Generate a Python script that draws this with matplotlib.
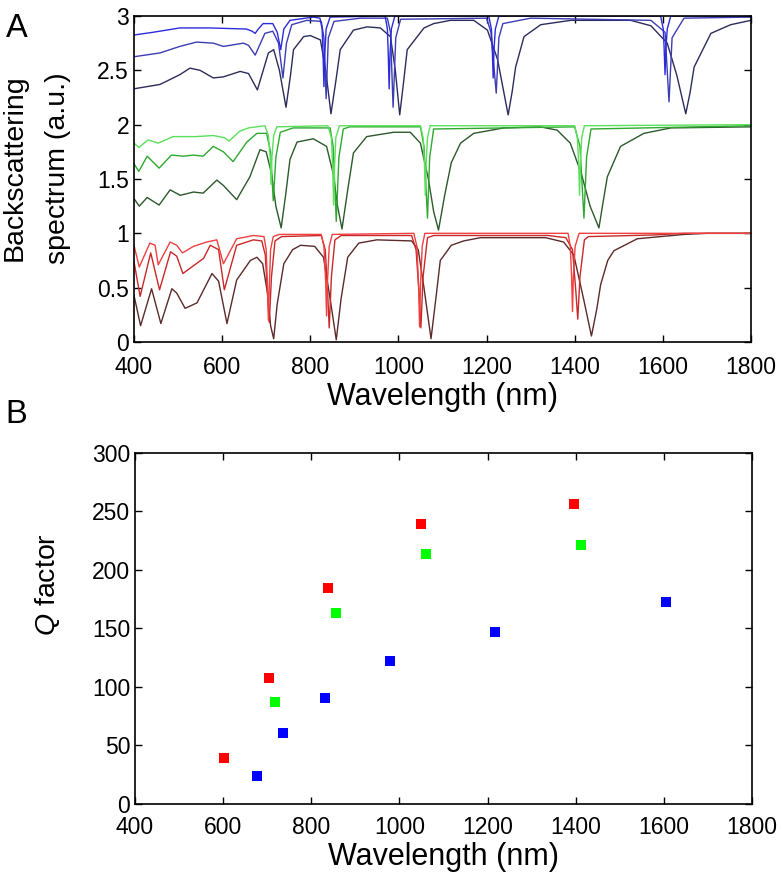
import numpy as np
import matplotlib
matplotlib.use("Agg")
import matplotlib.pyplot as plt

plt.rcParams['font.family'] = ['Liberation Sans', 'DejaVu Sans']
plt.rcParams['mathtext.fontset'] = 'custom'
plt.rcParams['mathtext.it'] = 'Liberation Sans:italic'
plt.rcParams['mathtext.rm'] = 'Liberation Sans'

# ---- panel A: backscattering spectra ----
r1_wl = [400, 412, 436, 448, 455, 482, 497, 510, 535, 565, 588, 603, 633, 671, 695, 700, 703, 705, 707, 710, 716, 730,
         825, 831, 835, 837, 839, 843, 850, 1035, 1042, 1046, 1048, 1050, 1054, 1060,
         1385, 1390, 1393, 1395, 1397, 1401, 1410, 1800]
r1_val = [0.89, 0.69, 0.91, 0.89, 0.71, 0.92, 0.89, 0.82, 0.88, 0.92, 0.94, 0.72, 0.95, 0.98, 0.97, 0.85, 0.50, 0.20, 0.50, 0.85, 0.97, 0.99,
          0.99, 0.88, 0.55, 0.24, 0.55, 0.88, 0.99, 1.00, 0.88, 0.50, 0.14, 0.50, 0.88, 1.00,
          1.00, 0.88, 0.60, 0.28, 0.60, 0.88, 1.00, 1.00]

r2_wl = [400, 414, 438, 458, 483, 497, 511, 531, 558, 573, 592, 605, 633, 671, 690, 698, 703, 707, 712, 720, 735,
         825, 834, 839, 843, 848, 856, 870, 1030, 1040, 1046, 1051, 1056, 1066, 1080,
         1340, 1380, 1395, 1402, 1407, 1412, 1422, 1431, 1580, 1648, 1800]
r2_val = [0.74, 0.42, 0.82, 0.48, 0.83, 0.79, 0.63, 0.69, 0.77, 0.89, 0.85, 0.48, 0.89, 0.94, 0.93, 0.80, 0.45, 0.18, 0.60, 0.93, 0.97,
          0.98, 0.85, 0.50, 0.13, 0.60, 0.94, 0.98, 0.98, 0.85, 0.50, 0.13, 0.60, 0.96, 0.98,
          0.98, 0.96, 0.85, 0.50, 0.21, 0.60, 0.94, 0.97, 0.985, 1.00, 1.00]

r3_wl = [400, 415, 440, 461, 486, 497, 516, 543, 577, 592, 611, 633, 664, 679, 692, 703, 710, 717, 725, 740, 760, 778,
         810, 830, 845, 859, 870, 885, 910, 951, 1030, 1045, 1058, 1074, 1085, 1095, 1120, 1148, 1186,
         1334, 1375, 1398, 1420, 1438, 1450, 1459, 1475, 1489, 1542, 1648, 1700, 1800]
r3_val = [0.43, 0.15, 0.49, 0.17, 0.49, 0.45, 0.31, 0.36, 0.63, 0.56, 0.17, 0.57, 0.75, 0.78, 0.72, 0.45, 0.15, 0.03, 0.35, 0.72, 0.85, 0.89,
          0.88, 0.78, 0.40, 0.02, 0.40, 0.78, 0.91, 0.94, 0.93, 0.85, 0.50, 0.03, 0.40, 0.75, 0.89, 0.93, 0.96,
          0.96, 0.92, 0.80, 0.40, 0.055, 0.30, 0.53, 0.75, 0.84, 0.95, 0.99, 1.00, 1.00]

g1_wl = [400, 411, 432, 455, 489, 540, 580, 605, 616, 640, 660, 697, 705, 709, 711, 713, 717, 724,
         840, 848, 851, 853, 855, 858, 866, 1050, 1056, 1059, 1061, 1063, 1066, 1072,
         1400, 1406, 1409, 1411, 1413, 1416, 1422, 1800]
g1_val = [1.83, 1.79, 1.86, 1.83, 1.89, 1.89, 1.90, 1.88, 1.85, 1.94, 1.97, 1.99, 1.90, 1.70, 1.45, 1.70, 1.90, 1.98,
          1.99, 1.88, 1.60, 1.26, 1.60, 1.88, 1.99, 1.99, 1.88, 1.65, 1.35, 1.65, 1.88, 1.99,
          1.99, 1.88, 1.65, 1.35, 1.65, 1.88, 1.99, 2.00]

g2_wl = [400, 411, 430, 457, 485, 512, 535, 557, 580, 603, 625, 656, 679, 701, 710, 716, 722, 732, 761,
         845, 852, 859, 865, 875, 889, 1050, 1058, 1066, 1071, 1080, 1400, 1412, 1421, 1427, 1437, 1800]
g2_val = [1.64, 1.57, 1.71, 1.60, 1.72, 1.71, 1.72, 1.71, 1.80, 1.75, 1.66, 1.84, 1.92, 1.92, 1.75, 1.30, 1.70, 1.93, 1.97,
          1.97, 1.80, 1.11, 1.70, 1.96, 1.98, 1.98, 1.80, 1.14, 1.70, 1.96, 1.98, 1.80, 1.14, 1.70, 1.96, 1.99]

g3_wl = [400, 412, 430, 457, 482, 505, 535, 557, 588, 603, 633, 663, 686, 700, 712, 722, 734, 744, 754, 770,
         807, 837, 852, 862, 872, 885, 898, 928, 989, 1027, 1050, 1068, 1080, 1091, 1105, 1120, 1141, 1171,
         1239, 1322, 1360, 1390, 1415, 1435, 1455, 1465, 1474, 1504, 1557, 1618, 1800]
g3_val = [1.32, 1.25, 1.33, 1.26, 1.40, 1.35, 1.38, 1.37, 1.49, 1.44, 1.31, 1.52, 1.77, 1.75, 1.55, 1.25, 1.05, 1.35, 1.68, 1.84,
          1.87, 1.80, 1.55, 1.25, 1.04, 1.40, 1.74, 1.89, 1.93, 1.93, 1.83, 1.50, 1.20, 1.03, 1.35, 1.65, 1.83, 1.92,
          1.97, 1.98, 1.95, 1.83, 1.55, 1.25, 1.05, 1.30, 1.52, 1.80, 1.92, 1.97, 1.98]

b1_wl = [400, 443, 504, 572, 655, 668, 675, 682, 693, 715, 725, 733, 740, 754, 807,
         822, 827, 829, 831, 833, 836, 845, 970, 975, 977, 979, 981, 984, 992,
         1205, 1211, 1213, 1215, 1217, 1220, 1228, 1595, 1601, 1603, 1605, 1607, 1610, 1618, 1800]
b1_val = [2.825, 2.85, 2.89, 2.89, 2.88, 2.86, 2.84, 2.88, 2.93, 2.93, 2.85, 2.69, 2.88, 2.96, 2.99,
          2.98, 2.88, 2.65, 2.35, 2.65, 2.88, 2.99, 3.00, 2.88, 2.65, 2.33, 2.65, 2.88, 3.00,
          3.00, 2.88, 2.70, 2.43, 2.70, 2.88, 3.00, 3.00, 2.88, 2.70, 2.46, 2.70, 2.88, 3.00, 3.00]

b2_wl = [400, 459, 504, 542, 580, 603, 648, 660, 675, 697, 715, 728, 738, 746, 758, 792,
         825, 831, 836, 841, 854, 914, 975, 982, 988, 994, 1005, 1200, 1210, 1222, 1228, 1237, 1300,
         1573, 1605, 1614, 1621, 1648, 1800]
b2_val = [2.625, 2.66, 2.72, 2.76, 2.75, 2.72, 2.75, 2.73, 2.64, 2.84, 2.86, 2.75, 2.43, 2.75, 2.92, 2.96,
          2.95, 2.80, 2.24, 2.80, 2.95, 2.98, 2.98, 2.85, 2.16, 2.80, 2.97, 2.98, 2.85, 2.29, 2.80, 2.93, 2.98,
          2.96, 2.85, 2.21, 2.80, 2.98, 2.99]

b3_wl = [400, 459, 504, 527, 550, 580, 603, 641, 660, 680, 705, 717, 730, 745, 755, 762, 785, 800,
         823, 835, 847, 858, 868, 898, 929, 959, 982, 993, 1003, 1012, 1020, 1058, 1080, 1118, 1171,
         1202, 1225, 1249, 1258, 1266, 1285, 1323, 1391, 1527, 1573, 1610, 1632, 1652, 1662, 1671,
         1709, 1754, 1800]
b3_val = [2.33, 2.37, 2.46, 2.52, 2.50, 2.43, 2.44, 2.49, 2.47, 2.32, 2.66, 2.69, 2.50, 2.16, 2.45, 2.69, 2.81, 2.82,
          2.78, 2.50, 2.10, 2.40, 2.69, 2.87, 2.90, 2.89, 2.81, 2.50, 2.09, 2.40, 2.69, 2.89, 2.93, 2.96, 2.96,
          2.87, 2.60, 2.09, 2.30, 2.53, 2.81, 2.92, 2.96, 2.96, 2.91, 2.75, 2.45, 2.10, 2.30, 2.53,
          2.84, 2.92, 2.96]

# ---- panel B: Q factors ----
red_wl = [602, 703, 837, 1048, 1395]
red_q = [39, 108, 185, 239, 256]
green_wl = [717, 855, 1061, 1413]
green_q = [87, 163, 214, 221]
blue_wl = [676, 735, 831, 979, 1216, 1605]
blue_q = [24, 61, 91, 122, 147, 173]

wl_ticks = [400, 600, 800, 1000, 1200, 1400, 1600, 1800]

fig = plt.figure(figsize=(7.83, 8.74), dpi=100)
ax1 = fig.add_axes([0.1711, 0.6087, 0.788, 0.3730])
ax2 = fig.add_axes([0.1724, 0.0801, 0.788, 0.4016])

curves = [
    (r3_wl, r3_val, '#5c2a2a'), (r2_wl, r2_val, '#c82828'), (r1_wl, r1_val, '#f04040'),
    (g3_wl, g3_val, '#2c5a2c'), (g2_wl, g2_val, '#2ea82e'), (g1_wl, g1_val, '#5ae05a'),
    (b3_wl, b3_val, '#2c2c5c'), (b2_wl, b2_val, '#3c3cb4'), (b1_wl, b1_val, '#2b2bdc'),
]
for wl, val, c in curves:
    ax1.plot(wl, val, color=c, lw=1.0)

ax1.set_xlim(400, 1800)
ax1.set_ylim(0, 3)
ax1.set_xticks(wl_ticks)
ax1.set_yticks([0, 0.5, 1, 1.5, 2, 2.5, 3])
ax1.set_yticklabels(['0', '0.5', '1', '1.5', '2', '2.5', '3'])
ax1.set_xlabel('Wavelength (nm)', fontsize=22, labelpad=2)
ax1.set_ylabel('Backscattering\nspectrum (a.u.)', fontsize=20.5, linespacing=1.9)
ax1.yaxis.label.set_va('center')
ax1.yaxis.set_label_coords(-0.158, 0.534)

sq = dict(marker='s', ms=7.5, ls='none', mew=0)
ax2.plot(red_wl, red_q, color='#ff0000', **sq)
ax2.plot(green_wl, green_q, color='#00ff00', **sq)
ax2.plot(blue_wl, blue_q, color='#0000ff', **sq)
ax2.set_xlim(400, 1800)
ax2.set_ylim(0, 300)
ax2.set_xticks(wl_ticks)
ax2.set_yticks(np.arange(0, 301, 50))
ax2.set_xlabel('Wavelength (nm)', fontsize=22, labelpad=2)
ax2.set_ylabel(r'$\it{Q}$ factor', fontsize=20.5)
ax2.yaxis.label.set_va('center')
ax2.yaxis.set_label_coords(-0.141, 0.624)

for ax in (ax1, ax2):
    ax.tick_params(direction='in', length=5, width=1, labelsize=16.5, top=True, right=True)
    for s in ax.spines.values():
        s.set_linewidth(1.2)

ax1.tick_params(axis='x', pad=10)
ax2.tick_params(axis='x', pad=9)

fig.text(0.007, 0.985, 'A', fontsize=23.5, va='top', ha='left')
fig.text(0.007, 0.543, 'B', fontsize=23.5, va='top', ha='left')

fig.savefig('out.png', dpi=100)
